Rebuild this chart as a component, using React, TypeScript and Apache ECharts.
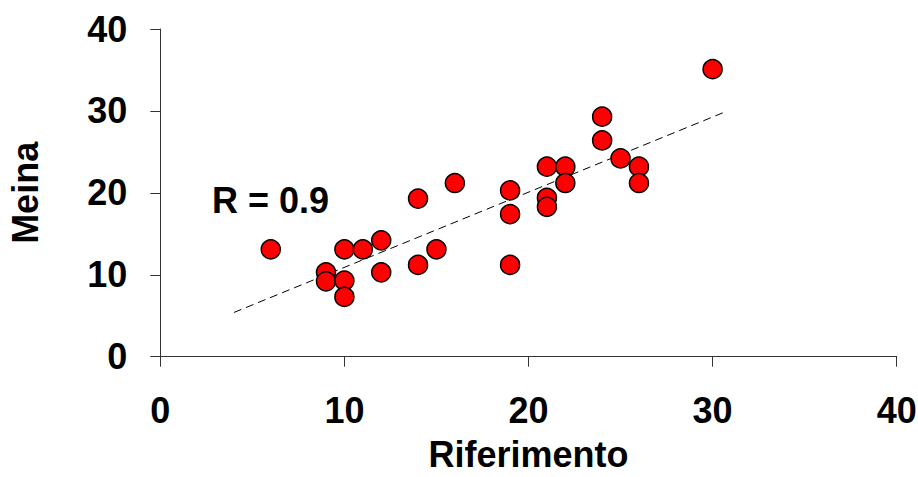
import React, { useEffect, useRef } from "react";
import * as echarts from "echarts";

const riferimento = [6, 9, 9, 10, 10, 10, 11, 12, 12, 14, 14, 15, 16, 19, 19, 19, 21, 21, 21, 22, 22, 24, 24, 25, 26, 26, 30];
const meina = [13.1, 10.3, 9.2, 13.1, 9.3, 7.3, 13.1, 14.2, 10.3, 19.3, 11.2, 13.1, 21.2, 20.3, 17.4, 11.2, 23.2, 19.4, 18.3, 23.2, 21.2, 29.3, 26.4, 24.2, 23.2, 21.2, 35.1];
const trendX = [4, 30.7];
const trendY = [5.4, 29.9];
const axisTicks = [0, 10, 20, 30, 40];
const rLabel = "R = 0.9";

const FONT = "'Liberation Sans', Arial, sans-serif";

export default function App() {
  const ref = useRef<HTMLDivElement>(null);
  useEffect(() => {
    if (!ref.current) return;
    const chart = echarts.init(ref.current, null, { renderer: "svg" });
    const axisCommon = {
      min: axisTicks[0],
      max: axisTicks[axisTicks.length - 1],
      interval: axisTicks[1] - axisTicks[0],
      splitLine: { show: false },
      axisLine: { show: true, onZero: false, lineStyle: { color: "#333", width: 1 } },
      axisTick: { show: true, inside: false, length: 10, lineStyle: { color: "#333", width: 1 } },
      nameTextStyle: { color: "#000", fontSize: 36, fontWeight: "bold", fontFamily: FONT, lineHeight: 36 },
      nameLocation: "middle",
    };
    const labelStyle = { color: "#000", fontSize: 36, fontWeight: "bold", fontFamily: FONT };
    chart.setOption({
      animation: false,
      backgroundColor: "#fff",
      grid: {
        left: 160.3,
        right: 21.3,
        top: 29,
        bottom: 120.3,
        containLabel: false,
        outerBoundsMode: "none",
      },
      xAxis: {
        type: "value",
        ...axisCommon,
        axisLabel: { ...labelStyle, margin: 36 },
        name: "Riferimento",
        nameGap: 80,
      },
      yAxis: {
        type: "value",
        ...axisCommon,
        axisLabel: { ...labelStyle, margin: 33 },
        name: "Meina",
        nameGap: 117,
      },
      graphic: [
        {
          type: "text",
          left: 212,
          top: 182,
          style: { text: rLabel, fill: "#000", font: `bold 36px ${FONT}` },
        },
      ],
      series: [
        {
          type: "line",
          data: trendX.map((x, i) => [x, trendY[i]]),
          symbol: "none",
          lineStyle: { color: "#000", width: 1, type: [8, 5] },
          z: 1,
        },
        {
          type: "scatter",
          data: riferimento.map((x, i) => [x, meina[i]]),
          symbol: "circle",
          symbolSize: 19,
          itemStyle: { color: "#ff0000", borderColor: "#000", borderWidth: 1.5, opacity: 1 },
          z: 2,
        },
      ],
    });
    return () => chart.dispose();
  }, []);
  return (
    <div
      ref={ref}
      style={{ position: "fixed", left: 0, top: 0, width: 918, height: 477, background: "#fff" }}
    />
  );
}
